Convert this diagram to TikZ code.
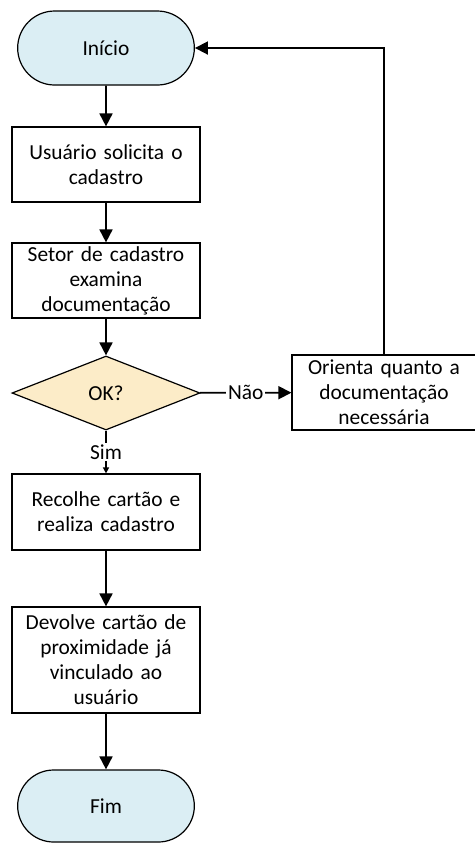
\documentclass[tikz,border=0pt]{standalone}
\usepackage{fontspec}
\setmainfont{Carlito}
\usetikzlibrary{shapes.geometric,shapes.misc,arrows.meta}

\definecolor{azulclaro}{RGB}{219,238,244}
\definecolor{bege}{RGB}{252,236,200}

\tikzset{
  texto/.style={font=\fontsize{10.7}{12.5}\selectfont},
  terminal/.style={draw=black, fill=azulclaro, rounded rectangle, line width=0.6pt, minimum width=95pt, minimum height=37pt, texto},
  processo/.style={draw=black, rectangle, line width=0.6pt, minimum width=94pt, minimum height=37.5pt, text width=90pt, align=center, inner sep=1pt, texto},
  decisao/.style={draw=black, fill=bege, diamond, aspect=2.54, minimum width=94pt, minimum height=37pt, inner sep=0pt, line width=0.6pt, texto},
  seta/.style={line width=0.9pt, -{Triangle[width=6.5pt,length=6.5pt]}},
  setinha/.style={line width=0.9pt, -{Triangle[width=3pt,length=3pt]}},
  rotulo/.style={fill=white, inner sep=1pt, texto}
}

\begin{document}
\begin{tikzpicture}[x=0.5pt, y=-0.5pt]

\useasboundingbox (0,0) rectangle (475,843);

\node[terminal] (inicio) at (106, 48) {Início};
\node[processo] (solicita) at (106, 164.5) {Usuário solicita o\\cadastro};
\node[processo] (examina) at (106, 280.5) {Setor de cadastro\\examina\\documentação};
\node[decisao] (ok) at (106, 393) {OK?};
\node[processo, minimum width=90pt] (orienta) at (384, 392.5) {Orienta quanto a\\documentação\\necessária};
\node[processo, minimum height=38pt] (recolhe) at (106, 512) {Recolhe cartão e\\realiza cadastro};
\node[processo, minimum height=53pt] (devolve) at (106, 660) {Devolve cartão de\\proximidade já\\vinculado ao\\usuário};
\node[terminal, minimum height=36pt] (fim) at (106, 806) {Fim};

\draw[seta] (inicio) -- (solicita);
\draw[seta] (solicita) -- (examina);
\draw[seta] (examina) -- (ok);
\draw[seta] (ok) -- node[rotulo] {Não} (orienta);
\draw[seta] (orienta.north) |- (inicio.east);
\draw[setinha] (ok) -- node[rotulo] {Sim} (recolhe);
\draw[seta] (recolhe) -- (devolve);
\draw[seta] (devolve) -- (fim);

\end{tikzpicture}
\end{document}
